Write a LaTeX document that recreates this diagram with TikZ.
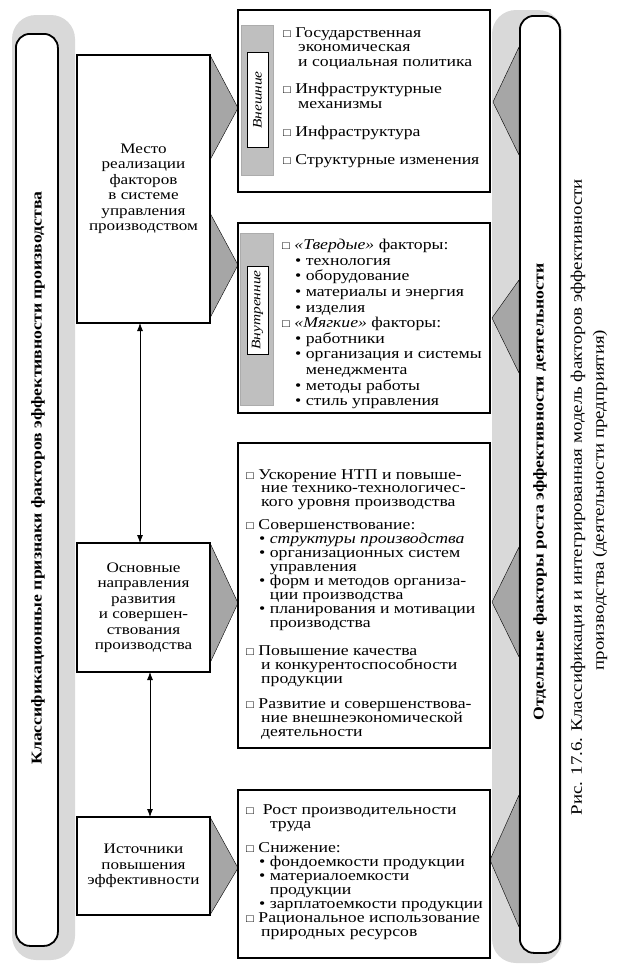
\documentclass[tikz,border=0pt]{standalone}
\usepackage{fontspec}
\setmainfont{Liberation Serif}[FakeStretch=1.18]
\usepackage{tikz}
\usetikzlibrary{arrows.meta,positioning,calc}

\newcommand{\boxmark}{{\fontsize{11}{11}\selectfont□}}
\newcommand{\gapA}{\hspace*{15pt}}
\newcommand{\gapB}{\hspace*{13pt}}

\begin{document}
\begin{tikzpicture}[x=1pt,y=-1pt,
  band/.style={fill=gray!30,rounded corners=24pt},
  bar/.style={draw,fill=white,line width=1.8pt,rounded corners=14pt,inner sep=0pt,anchor=north west},
  blk/.style={draw,line width=1.2pt,inner sep=0pt,outer sep=0pt,anchor=north west},
  place/.style={blk,fill=white,align=center,font=\fontsize{14.5}{15.5}\selectfont},
  lst/.style={inner sep=0pt,anchor=north west,align=left,font=\fontsize{15}{14.5}\selectfont},
  strip/.style={fill=gray!50,draw=gray!65,inner sep=0pt,anchor=north west},
  tag/.style={draw,fill=white,inner sep=0pt,rotate=90,font=\itshape\fontsize{13}{13}\selectfont},
  tri/.style={draw,fill=gray!70,line join=round},
  dbl/.style={{Latex[length=8pt,width=6pt]}-{Latex[length=8pt,width=6pt]},line width=0.8pt},
  side/.style={rotate=90,font=\bfseries\fontsize{15}{15}\selectfont},
  captxt/.style={rotate=90,font=\fontsize{16}{16}\selectfont}
]
\useasboundingbox (0,0) rectangle (628,964);

% grey bands
\fill[band] (12,15) rectangle (75,960);
\fill[band] (492,10) rectangle (562,963);

% pointers
\filldraw[tri] (519,47) -- (493,102) -- (519,155) -- cycle;
\filldraw[tri] (519,280) -- (492,318) -- (519,373) -- cycle;
\filldraw[tri] (519,547) -- (492,602) -- (519,657) -- cycle;
\filldraw[tri] (519,795) -- (490,860) -- (519,927) -- cycle;
\filldraw[tri] (210,55) -- (238,108) -- (210,160) -- cycle;
\filldraw[tri] (210,213) -- (238,265) -- (210,318) -- cycle;
\filldraw[tri] (210,543) -- (238,603) -- (210,663) -- cycle;
\filldraw[tri] (210,817) -- (238,868) -- (210,915) -- cycle;

% side bars
\node[bar,minimum width=42pt,minimum height=912pt] (lbar) at (15,33) {};
\node[bar,minimum width=40pt,minimum height=937pt] (rbar) at (519,15) {};
\node[side] (ltitle) at (38,478) {Классификационные признаки факторов эффективности производства};
\node[side] (rtitle) at (540,492) {Отдельные факторы роста эффективности деятельности};

% left column
\node[place,minimum width=133pt,minimum height=268pt] (pl1) at (77,55)
  {Место\\реализации\\факторов\\в системе\\управления\\производством};
\node[place,minimum width=133pt,minimum height=129pt] (pl2) at (77,543)
  {Основные\\направления\\развития\\и совершен-\\ствования\\производства};
\node[place,minimum width=133pt,minimum height=98pt] (pl3) at (77,817)
  {Источники\\повышения\\эффективности};
\draw[dbl] ([xshift=-3.5pt]pl1.south) -- ([xshift=-3.5pt]pl2.north);
\draw[dbl] ([xshift=6.5pt]pl2.south) -- ([xshift=6.5pt]pl3.north);

% right column
\node[blk,minimum width=252pt,minimum height=182pt] (bA) at (238,10) {};
\node[strip,minimum width=32pt,minimum height=150pt] (sA) at (241,25) {};
\node[tag,minimum width=95pt,minimum height=21pt] (gA) at (257.5,100) {Внешние};
\node[lst] (tA) at (283,27)
  {\boxmark\ Государственная\\
   \gapA экономическая\\
   \gapA и социальная политика\\[13pt]
   \boxmark\ Инфраструктурные\\
   \gapA механизмы\\[14pt]
   \boxmark\ Инфраструктура\\[13pt]
   \boxmark\ Структурные изменения};

\node[blk,minimum width=252pt,minimum height=190pt] (bB) at (238,223) {};
\node[strip,minimum width=33pt,minimum height=172pt] (sB) at (240,233) {};
\node[tag,minimum width=88pt,minimum height=21pt] (gB) at (257.5,310) {Внутренние};
\node[lst,font=\fontsize{15}{15.6}\selectfont] (tB) at (282,239)
  {\boxmark\ \textit{«Твердые»} факторы:\\
   \gapB• технология\\
   \gapB• оборудование\\
   \gapB• материалы и энергия\\
   \gapB• изделия\\
   \boxmark\ \textit{«Мягкие»} факторы:\\
   \gapB• работники\\
   \gapB• организация и системы\\
   \gapB\phantom{• }менеджмента\\
   \gapB• методы работы\\
   \gapB• стиль управления};

\node[blk,minimum width=252pt,minimum height=305pt] (bC) at (238,443) {};
\node[lst,font=\fontsize{15}{13.9}\selectfont] (tC) at (246,469)
  {\boxmark\ Ускорение НТП и повыше-\\
   \gapA ние технико-технологичес-\\
   \gapA кого уровня производства\\[9pt]
   \boxmark\ Совершенствование:\\
   \gapB• \textit{структуры производства}\\
   \gapB• организационных систем\\
   \gapB\phantom{• }управления\\
   \gapB• форм и методов организа-\\
   \gapB\phantom{• }ции производства\\
   \gapB• планирования и мотивации\\
   \gapB\phantom{• }производства\\[15pt]
   \boxmark\ Повышение качества\\
   \gapA и конкурентоспособности\\
   \gapA продукции\\[11pt]
   \boxmark\ Развитие и совершенствова-\\
   \gapA ние внешнеэкономической\\
   \gapA деятельности};

\node[blk,minimum width=252pt,minimum height=168pt] (bD) at (238,790) {};
\node[lst,font=\fontsize{15}{14}\selectfont] (tD) at (246,804)
  {\boxmark\ \ Рост производительности\\
   \gapA\ \ труда\\[10pt]
   \boxmark\ Снижение:\\
   \gapB• фондоемкости продукции\\
   \gapB• материалоемкости\\
   \gapB\phantom{• }продукции\\
   \gapB• зарплатоемкости продукции\\
   \boxmark\ Рациональное использование\\
   \gapA природных ресурсов};

% caption
\node[captxt] (cap1) at (578,497) {Рис. 17.6. Классификация и интегрированная модель факторов эффективности};
\node[captxt] (cap2) at (600,500) {производства (деятельности предприятия)};
\end{tikzpicture}
\end{document}
